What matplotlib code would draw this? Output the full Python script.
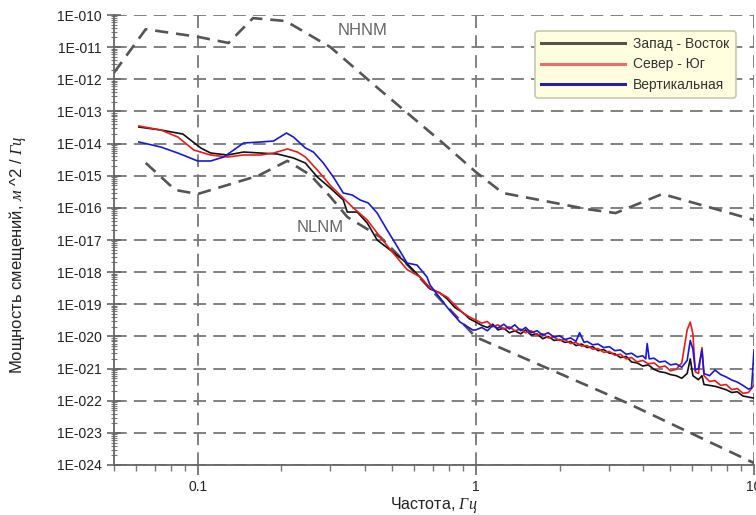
import matplotlib
matplotlib.use("Agg")
import matplotlib.pyplot as plt
import numpy as np
from matplotlib.ticker import LogLocator, FuncFormatter, NullFormatter
from matplotlib.lines import Line2D

plt.rcParams['font.family'] = ['Liberation Sans', 'DejaVu Sans']
plt.rcParams['mathtext.fontset'] = 'custom'
plt.rcParams['mathtext.it'] = 'Liberation Serif:italic'
plt.rcParams['mathtext.rm'] = 'Liberation Sans'

# ---------------- data ----------------
nhnm_f = [0.05, 0.065, 0.1, 0.129, 0.158, 0.207, 0.30, 0.44, 0.76, 1.0, 1.25, 2.54, 3.18, 4.68, 6.84, 10.0]
nhnm_p = [1.6e-12, 3.6e-11, 2.1e-11, 1.35e-11, 8e-11, 6.5e-11, 1.0e-11, 5.7e-13, 1.05e-14, 1.3e-15,
          2.9e-16, 9e-17, 6.9e-17, 2.7e-16, 1.07e-16, 4.2e-17]

nlnm_f = [0.065, 0.083, 0.1, 0.165, 0.21, 0.254, 0.30, 0.345, 0.453, 0.5475, 1.0, 3.45, 10.0]
nlnm_p = [2.5e-15, 3.6e-16, 2.7e-16, 1.0e-15, 2.9e-15, 1.05e-15, 2.2e-16, 5.2e-17, 1.24e-17,
          2.38e-18, 9.5e-21, 9e-23, 1.15e-24]

# low-frequency (smooth) parts
ew_f_lo = [0.0614, 0.0737, 0.0884, 0.1025, 0.1113, 0.128, 0.1462, 0.1682, 0.1935, 0.2208, 0.2438,
           0.2692, 0.2997, 0.3337, 0.3449, 0.3746, 0.4068, 0.4418, 0.4917, 0.5475, 0.6301, 0.684,
           0.74, 0.787, 0.84, 0.898, 0.95]
ew_p_lo = [3.27e-14, 2.64e-14, 1.98e-14, 7.3e-15, 5.08e-15, 4.41e-15, 5.46e-15, 5.08e-15, 4.73e-15,
           3.56e-15, 2.48e-15, 9.1e-16, 4.14e-16, 1.75e-16, 7.4e-17, 7.4e-17, 3.38e-17, 9.98e-18,
           4.88e-18, 2.38e-18, 7.05e-19, 3.0e-19, 2.3e-19, 1.5e-19, 8e-20, 5.5e-20, 3.5e-20]

ns_f_lo = [0.0614, 0.0737, 0.0848, 0.0968, 0.1113, 0.128, 0.1462, 0.1682, 0.1873, 0.2102, 0.2282,
           0.2438, 0.2692, 0.2997, 0.3337, 0.3625, 0.4068, 0.453, 0.5042, 0.5659, 0.6301, 0.6842,
           0.7873, 0.8982, 0.95]
ns_p_lo = [3.52e-14, 2.64e-14, 1.60e-14, 6.3e-15, 4.41e-15, 3.82e-15, 4.41e-15, 4.41e-15, 5.08e-15,
           6.8e-15, 5.46e-15, 3.82e-15, 1.50e-15, 5.0e-16, 2.0e-16, 1.0e-16, 4.19e-17, 1.24e-17,
           3.94e-18, 1.2e-18, 7.05e-19, 3.21e-19, 1.68e-19, 5.35e-20, 4.0e-20]

z_f_lo = [0.0614, 0.0737, 0.0848, 0.1, 0.1113, 0.124, 0.1462, 0.1682, 0.1873, 0.2084, 0.2208, 0.2438,
          0.2605, 0.2829, 0.3073, 0.3337, 0.3594, 0.3839, 0.4102, 0.4418, 0.4797, 0.5126, 0.5659,
          0.6146, 0.6673, 0.6842, 0.7873, 0.8766, 0.9755]
z_p_lo = [1.12e-14, 7.8e-15, 5.08e-15, 2.87e-15, 2.87e-15, 3.82e-15, 1.04e-14, 1.12e-14, 1.20e-14,
          2.13e-14, 1.60e-14, 7.3e-15, 5.46e-15, 2.48e-15, 9.1e-16, 2.90e-16, 2.51e-16, 1.75e-16,
          1.42e-16, 6.9e-17, 2.04e-17, 8.05e-18, 1.92e-18, 1.66e-18, 7.05e-19, 3.97e-19, 8.2e-20,
          2.81e-20, 1.58e-20]

# high-frequency (noisy) parts
ew_f_hi = [1.00, 1.05, 1.10, 1.15, 1.20, 1.26, 1.32, 1.38, 1.45, 1.51, 1.58, 1.66, 1.74, 1.82, 1.91,
           2.00, 2.09, 2.19, 2.29, 2.40, 2.51, 2.63, 2.75, 2.88, 3.02, 3.16, 3.31, 3.47, 3.63, 3.80,
           3.98, 4.17, 4.37, 4.57, 4.79, 5.01, 5.25, 5.50, 5.75, 5.90, 6.03, 6.31, 6.50, 6.61, 6.92,
           7.24, 7.59, 7.94, 8.32, 8.71, 9.12, 9.55, 10.0]
ew_p_hi = [2.8e-20, 2.2e-20, 1.9e-20, 2.4e-20, 1.6e-20, 1.8e-20, 1.3e-20, 1.5e-20, 1.2e-20, 1.6e-20,
           1.1e-20, 1.2e-20, 8.5e-21, 1.0e-20, 7.5e-21, 8.0e-21, 6.5e-21, 7.0e-21, 5.2e-21, 5.8e-21,
           4.5e-21, 4.8e-21, 3.6e-21, 3.9e-21, 3.0e-21, 2.9e-21, 2.2e-21, 2.4e-21, 1.6e-21, 1.5e-21,
           1.2e-21, 1.3e-21, 9.5e-22, 8.0e-22, 7.5e-22, 6.5e-22, 6.0e-22, 5.0e-22, 7.0e-22, 2.0e-21,
           6.0e-22, 4.5e-22, 6.0e-22, 3.2e-22, 3.0e-22, 2.8e-22, 2.5e-22, 2.2e-22, 1.8e-22, 1.9e-22,
           1.4e-22, 1.3e-22, 1.2e-22]

ns_f_hi = [1.00, 1.05, 1.10, 1.15, 1.20, 1.26, 1.32, 1.38, 1.45, 1.51, 1.58, 1.66, 1.74, 1.82, 1.91,
           2.00, 2.09, 2.19, 2.29, 2.40, 2.51, 2.63, 2.75, 2.88, 3.02, 3.16, 3.31, 3.47, 3.63, 3.80,
           3.98, 4.17, 4.37, 4.57, 4.79, 5.01, 5.25, 5.50, 5.75, 5.90, 6.03, 6.15, 6.31, 6.50, 6.61,
           6.92, 7.24, 7.59, 7.94, 8.32, 8.71, 9.12, 9.55, 10.0]
ns_p_hi = [3.2e-20, 2.6e-20, 2.9e-20, 2.0e-20, 2.3e-20, 1.7e-20, 2.0e-20, 1.5e-20, 1.7e-20, 1.3e-20,
           1.5e-20, 1.1e-20, 1.2e-20, 9.0e-21, 9.5e-21, 7.5e-21, 8.0e-21, 6.0e-21, 6.5e-21, 5.0e-21,
           5.2e-21, 4.0e-21, 4.2e-21, 3.2e-21, 3.4e-21, 2.6e-21, 2.8e-21, 2.0e-21, 2.2e-21, 1.6e-21,
           1.8e-21, 1.4e-21, 1.5e-21, 1.1e-21, 1.2e-21, 8.5e-22, 9.5e-22, 1.5e-21, 1.6e-20, 2.8e-20,
           1.2e-20, 8.0e-22, 7.0e-22, 4.5e-21, 6.0e-22, 4.0e-22, 4.2e-22, 3.0e-22, 3.2e-22, 2.2e-22,
           2.4e-22, 1.7e-22, 1.8e-22, 3.0e-22]

z_f_hi = [1.00, 1.05, 1.10, 1.15, 1.20, 1.26, 1.32, 1.38, 1.45, 1.51, 1.58, 1.66, 1.74, 1.82, 1.91,
          2.00, 2.09, 2.19, 2.29, 2.36, 2.45, 2.51, 2.63, 2.75, 2.88, 3.02, 3.16, 3.31, 3.47, 3.63,
          3.80, 3.98, 4.08, 4.13, 4.20, 4.37, 4.57, 4.79, 5.01, 5.25, 5.50, 5.75, 5.90, 6.03, 6.15,
          6.31, 6.50, 6.61, 6.92, 7.24, 7.59, 7.94, 8.32, 8.71, 9.12, 9.55, 9.80, 10.0]
z_p_hi = [1.6e-20, 1.9e-20, 1.5e-20, 2.2e-20, 1.8e-20, 2.4e-20, 1.7e-20, 2.3e-20, 1.5e-20, 1.9e-20,
          1.3e-20, 1.5e-20, 1.1e-20, 1.3e-20, 9.5e-21, 1.05e-20, 8.0e-21, 9.0e-21, 7.0e-21, 1.3e-20,
          6.5e-21, 7.0e-21, 5.5e-21, 5.8e-21, 4.5e-21, 4.8e-21, 3.6e-21, 3.8e-21, 2.8e-21, 3.0e-21,
          2.3e-21, 2.5e-21, 2.0e-21, 6.0e-21, 2.0e-21, 2.1e-21, 1.6e-21, 1.7e-21, 1.3e-21, 1.4e-21,
          1.1e-21, 1.8e-21, 7.5e-21, 4.0e-21, 9.0e-22, 1.0e-21, 3.8e-21, 7.0e-22, 6.0e-22, 9.0e-22,
          6.5e-22, 5.5e-22, 4.4e-22, 3.8e-22, 3.0e-22, 2.3e-22, 2.5e-22, 3.8e-21]

series_names = ['Запад - Восток', 'Север - Юг', 'Вертикальная']
series_colors = ['#111111', '#EE1A1A', '#1818DD']
legend_colors = ['#555548', '#F06A6A', '#22229A']

y_ticks = [1e-10, 1e-11, 1e-12, 1e-13, 1e-14, 1e-15, 1e-16, 1e-17, 1e-18, 1e-19, 1e-20,
           1e-21, 1e-22, 1e-23, 1e-24]
x_ticks = [0.1, 1, 10]
x_ticklabels = ['0.1', '1', '10']

# ---------------- figure ----------------
fig = plt.figure(figsize=(7.56, 5.15), dpi=100)
ax = fig.add_axes([114/756, 1 - 465/515, 640/756, 450/515])
ax.set_xscale('log')
ax.set_yscale('log')
ax.set_xlim(0.05, 10)
ax.set_ylim(1e-24, 1e-10)

grid_kw = dict(color='#777777', lw=1.3, dashes=(7, 4), zorder=1)
for yt in y_ticks:
    ax.axhline(yt, **grid_kw)
for xt in x_ticks:
    ax.axvline(xt, **grid_kw)

model_kw = dict(color='#555555', lw=1.9, dashes=(5, 3), zorder=2)
ax.plot(nhnm_f, nhnm_p, **model_kw)
ax.plot(nlnm_f, nlnm_p, **model_kw)

curves = [(ew_f_lo + ew_f_hi, ew_p_lo + ew_p_hi),
          (ns_f_lo + ns_f_hi, ns_p_lo + ns_p_hi),
          (z_f_lo + z_f_hi, z_p_lo + z_p_hi)]
for (fx, py), c in zip(curves, series_colors):
    ax.plot(fx, py, color=c, lw=1.2, zorder=3)

ax.text(0.39, 3.4e-11, 'NHNM', color='#666666', fontsize=12, ha='center', va='center')
ax.text(0.276, 2.5e-17, 'NLNM', color='#666666', fontsize=12, ha='center', va='center')

# legend
handles = [Line2D([], [], color=c, lw=2.2) for c in legend_colors]
leg = ax.legend(handles, series_names, loc='upper right', bbox_to_anchor=(0.982, 0.98),
                fontsize=10, handlelength=6.0, handletextpad=0.6, labelspacing=0.45,
                borderpad=0.45, fancybox=True, framealpha=1.0)
leg.get_frame().set_facecolor('#FFFFE0')
leg.get_frame().set_edgecolor('#C8C8B0')
leg.get_frame().set_linewidth(1.2)
leg.set_zorder(5)
for t in leg.get_texts():
    t.set_color('#333333')

# axes styling
for s in ['top', 'right']:
    ax.spines[s].set_visible(False)
for s in ['left', 'bottom']:
    ax.spines[s].set_color('#666666')
    ax.spines[s].set_linewidth(1.3)

ax.set_yticks(y_ticks)
ax.yaxis.set_major_formatter(FuncFormatter(lambda v, p: '1E-%03d' % int(round(-np.log10(v)))))
ax.yaxis.set_minor_locator(LogLocator(base=10, subs=np.arange(2, 10), numticks=100))
ax.yaxis.set_minor_formatter(NullFormatter())
ax.set_xticks(x_ticks)
ax.set_xticklabels(x_ticklabels)
ax.xaxis.set_minor_locator(LogLocator(base=10, subs=np.arange(2, 10), numticks=100))
ax.xaxis.set_minor_formatter(NullFormatter())

ax.tick_params(axis='y', which='major', direction='inout', length=10, width=1.2,
               color='#666666', labelsize=10, labelcolor='#222222', pad=4)
ax.tick_params(axis='y', which='minor', direction='inout', length=5, width=0.8, color='#777777')
ax.tick_params(axis='x', which='major', direction='out', length=7, width=1.2,
               color='#666666', labelsize=10, labelcolor='#222222', pad=4)
ax.tick_params(axis='x', which='minor', direction='out', length=4, width=1.0, color='#777777')

ax.set_xlabel('Частота, $\\mathit{Гц}$', fontsize=11.5, color='#222222')
ax.xaxis.set_label_coords(0.5, -0.066)
ax.set_ylabel('Мощность смещений, $\\mathit{м}$ ^2 / $\\mathit{Гц}$', fontsize=12,
              color='#222222')
ax.yaxis.set_label_coords(-0.134, 0.467)

fig.savefig('out.png', dpi=100)
